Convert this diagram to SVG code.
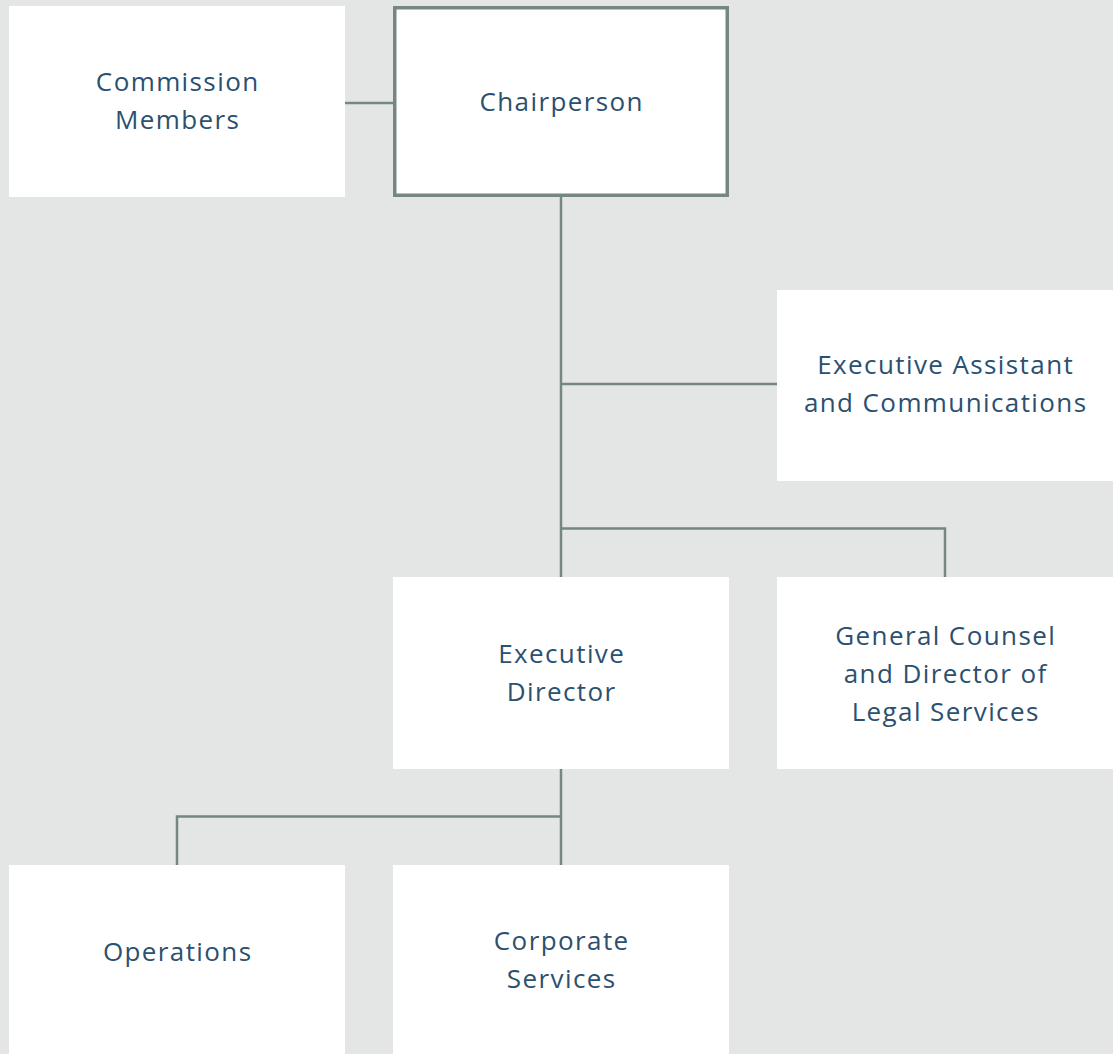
<svg xmlns="http://www.w3.org/2000/svg" width="1113" height="1054" viewBox="0 0 1113 1054">
<style>
.box{fill:#ffffff}
.ln{stroke:#76877f;stroke-width:2.5;fill:none}
.t{font-family:"Open Sans",Lato,"Liberation Sans",sans-serif;font-size:26px;fill:#2b5070;text-anchor:middle;letter-spacing:1.4px}
</style>
<rect width="1113" height="1054" fill="#e4e6e5"/>
<g id="connectors">
<line class="ln" x1="345" y1="103" x2="393" y2="103"/>
<line class="ln" x1="561" y1="197" x2="561" y2="577"/>
<line class="ln" x1="561" y1="384" x2="777" y2="384"/>
<polyline class="ln" points="561,528.5 945,528.5 945,577"/>
<line class="ln" x1="561" y1="769" x2="561" y2="865"/>
<polyline class="ln" points="561,816.5 177,816.5 177,865"/>
</g>
<g id="commission-members">
<rect class="box" x="9" y="6" width="336" height="191"/>
<text class="t" x="177.7" y="91">Commission</text>
<text class="t" x="177.7" y="129">Members</text>
</g>
<g id="chairperson">
<rect x="394.75" y="7.75" width="332.5" height="187.5" fill="#ffffff" stroke="#76877f" stroke-width="3.5"/>
<text class="t" x="561.7" y="111">Chairperson</text>
</g>
<g id="executive-assistant">
<rect class="box" x="777" y="290" width="336" height="191"/>
<text class="t" x="945.7" y="374">Executive Assistant</text>
<text class="t" x="945.7" y="412">and Communications</text>
</g>
<g id="executive-director">
<rect class="box" x="393" y="577" width="336" height="192"/>
<text class="t" x="561.7" y="663">Executive</text>
<text class="t" x="561.7" y="701">Director</text>
</g>
<g id="general-counsel">
<rect class="box" x="777" y="577" width="336" height="192"/>
<text class="t" x="945.7" y="645">General Counsel</text>
<text class="t" x="945.7" y="683">and Director of</text>
<text class="t" x="945.7" y="721">Legal Services</text>
</g>
<g id="operations">
<rect class="box" x="9" y="865" width="336" height="189"/>
<text class="t" x="177.7" y="961">Operations</text>
</g>
<g id="corporate-services">
<rect class="box" x="393" y="865" width="336" height="189"/>
<text class="t" x="561.7" y="950">Corporate</text>
<text class="t" x="561.7" y="988">Services</text>
</g>
</svg>
